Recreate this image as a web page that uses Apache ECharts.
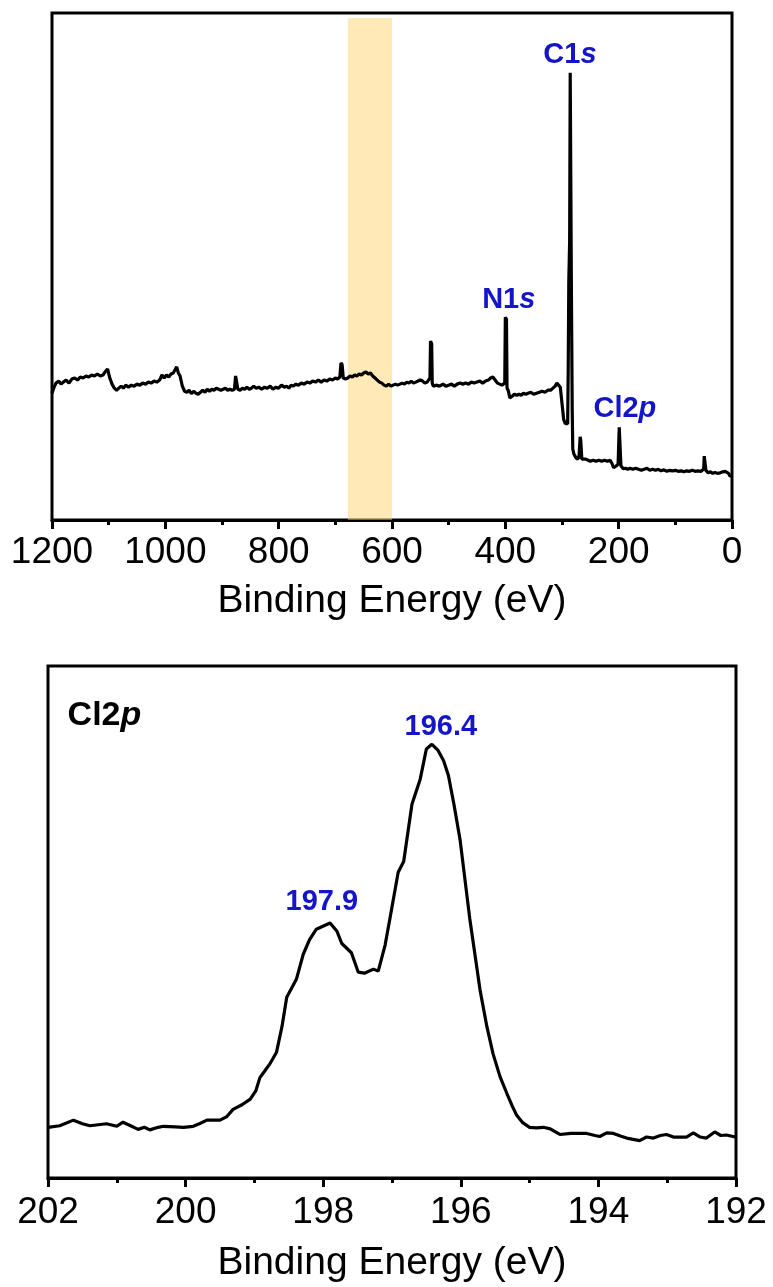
<!DOCTYPE html>
<html>
<head>
<meta charset="utf-8">
<script src="https://cdn.jsdelivr.net/npm/echarts@6/dist/echarts.min.js"></script>
<style>
  html, body { margin: 0; padding: 0; background: #fff; }
  #xps { width: 773px; height: 1287px; }
</style>
</head>
<body>
<div id="xps"></div>
<script>
// survey spectrum: [binding energy (eV), intensity (a.u.)]
var surveyData = [
  [1200, 25.0], [1197, 26.0], [1193, 27.0], [1188, 27.4], [1184, 26.8], [1180, 27.2],
  [1175, 27.6], [1170, 27.0], [1165, 27.8], [1160, 28.0], [1155, 27.6], [1150, 28.2],
  [1145, 28.0], [1140, 28.4], [1135, 28.2], [1130, 28.6], [1125, 28.4], [1120, 28.8],
  [1115, 28.4], [1110, 28.6], [1105, 29.4], [1102, 29.8], [1098, 28.0], [1094, 26.8],
  [1090, 26.0], [1086, 25.6], [1082, 26.0], [1078, 26.4], [1074, 26.0], [1070, 26.6],
  [1065, 26.2], [1060, 26.6], [1055, 26.4], [1050, 26.8], [1045, 26.6], [1040, 27.0],
  [1035, 26.8], [1030, 27.2], [1025, 27.0], [1020, 27.4], [1015, 27.2], [1010, 27.6],
  [1006, 28.6], [1002, 28.0], [998, 28.6], [994, 28.2], [990, 28.8], [986, 29.0],
  [983, 29.6], [980, 30.2], [977, 29.0], [974, 28.4], [970, 26.4], [966, 25.4],
  [962, 25.2], [958, 25.6], [954, 24.9], [950, 25.4], [946, 25.0], [942, 24.8],
  [938, 25.2], [934, 25.6], [930, 25.2], [926, 25.8], [922, 25.4], [918, 25.8],
  [914, 25.6], [910, 26.0], [906, 25.8], [902, 25.6], [898, 25.8], [894, 26.0],
  [890, 25.6], [886, 25.8], [882, 25.6], [878, 25.8], [876, 28.4], [874, 28.2],
  [872, 25.8], [868, 25.6], [864, 26.0], [860, 25.8], [856, 26.2], [852, 25.8],
  [848, 26.0], [844, 26.4], [840, 26.0], [835, 26.2], [830, 25.8], [825, 26.2],
  [820, 26.0], [815, 26.4], [810, 25.8], [805, 26.2], [800, 26.0], [795, 26.6],
  [790, 26.2], [786, 26.4], [782, 26.0], [778, 26.6], [774, 26.4], [770, 26.8],
  [765, 26.6], [760, 27.0], [755, 26.8], [750, 27.2], [745, 27.0], [740, 27.4],
  [735, 27.2], [730, 27.6], [725, 27.2], [720, 27.6], [715, 27.4], [710, 27.8],
  [705, 27.6], [700, 28.0], [696, 27.8], [692, 28.2], [690, 31.0], [688, 30.6],
  [686, 28.0], [682, 27.8], [678, 28.0], [674, 28.4], [670, 28.2], [666, 28.6],
  [662, 28.4], [658, 28.8], [654, 28.6], [650, 29.0], [646, 29.2], [642, 28.8],
  [638, 29.0], [634, 28.4], [630, 28.0], [626, 27.6], [622, 27.2], [618, 27.0],
  [614, 26.6], [610, 26.4], [606, 26.8], [602, 26.4], [598, 26.6], [594, 26.8],
  [590, 26.6], [586, 26.8], [582, 27.0], [578, 26.8], [574, 27.2], [570, 27.0],
  [566, 27.4], [562, 27.0], [558, 27.2], [554, 27.4], [550, 27.6], [546, 27.4],
  [542, 27.0], [538, 27.2], [535, 27.0], [533, 28.0], [532, 35.3], [530, 34.8],
  [529, 27.0], [527, 26.4], [522, 26.6], [516, 26.4], [510, 26.8], [505, 26.4],
  [500, 26.6], [495, 26.8], [490, 26.4], [485, 26.8], [480, 27.0], [475, 26.8],
  [470, 27.0], [465, 26.8], [460, 27.2], [455, 27.0], [450, 27.2], [445, 27.4],
  [440, 27.0], [435, 27.4], [430, 27.6], [426, 28.0], [422, 28.2], [418, 27.6],
  [414, 27.0], [410, 26.8], [406, 26.6], [403, 26.4], [401, 27.0], [400, 40.0],
  [398, 39.6], [397, 26.0], [395, 25.6], [392, 24.1], [388, 24.4], [384, 24.8],
  [380, 24.6], [376, 24.8], [372, 24.6], [368, 25.0], [364, 24.8], [360, 25.0],
  [355, 25.2], [350, 24.8], [345, 25.0], [340, 25.2], [335, 25.4], [330, 25.2],
  [325, 25.6], [320, 25.6], [316, 26.0], [312, 26.4], [309, 27.0], [306, 26.8],
  [303, 26.2], [300, 23.0], [297, 19.8], [294, 19.0], [292, 18.7], [290, 19.0],
  [289, 30.0], [288, 47.0], [286.5, 55.0], [285.5, 88.2], [284.5, 88.0], [283.5, 47.0],
  [282, 22.0], [281, 14.0], [279, 13.0], [276, 12.4], [273, 12.0], [270, 12.4],
  [268, 16.4], [267, 15.8], [265, 12.0], [262, 11.8], [258, 12.0], [254, 11.8],
  [250, 11.6], [245, 11.8], [240, 11.6], [235, 11.8], [230, 11.6], [225, 11.8],
  [220, 11.6], [215, 11.8], [212, 11.2], [209, 10.3], [205, 10.6], [201, 11.0],
  [199, 18.3], [198, 18.0], [196, 10.7], [194, 10.4], [192, 10.1], [188, 10.2],
  [184, 10.0], [180, 10.2], [175, 10.0], [170, 10.2], [165, 10.0], [160, 9.8],
  [155, 10.0], [150, 10.2], [145, 9.8], [140, 10.0], [135, 9.8], [130, 10.0],
  [125, 9.7], [120, 9.9], [115, 9.6], [110, 9.8], [105, 9.7], [100, 9.8],
  [95, 9.6], [90, 9.7], [85, 9.5], [80, 9.7], [75, 9.6], [70, 9.8],
  [65, 9.6], [60, 9.7], [55, 9.6], [50, 10.0], [49, 12.6], [47, 12.4],
  [46, 9.8], [42, 9.3], [38, 9.5], [34, 9.2], [30, 9.4], [26, 9.2],
  [21, 9.3], [16, 9.5], [12, 9.6], [9, 9.7], [6, 9.2], [4, 8.7], [0, 8.7]
];

// Cl 2p high resolution spectrum
var cl2pData = [
  [202.00, 9.9], [201.83, 10.2], [201.63, 11.3], [201.50, 10.6], [201.39, 10.2],
  [201.15, 10.6], [201.00, 10.1], [200.91, 10.9], [200.80, 10.2], [200.69, 9.5],
  [200.60, 9.9], [200.52, 9.4], [200.40, 9.9], [200.32, 10.1], [200.15, 10.0],
  [200.03, 9.9], [199.89, 10.1], [199.80, 10.6], [199.69, 11.3], [199.50, 11.3],
  [199.40, 12.0], [199.31, 13.4], [199.18, 14.3], [199.06, 15.4], [198.98, 17.0],
  [198.92, 19.6], [198.85, 20.9], [198.77, 22.4], [198.68, 24.5], [198.60, 29.5],
  [198.53, 35.3], [198.39, 38.8], [198.29, 43.7], [198.20, 46.5], [198.10, 48.6],
  [197.90, 49.8], [197.80, 48.2], [197.73, 45.8], [197.59, 44.0], [197.49, 40.2],
  [197.40, 40.0], [197.27, 40.8], [197.20, 40.4], [197.10, 45.5], [197.03, 50.7],
  [196.91, 59.7], [196.83, 61.8], [196.71, 73.0], [196.59, 77.9], [196.50, 83.8],
  [196.42, 84.7], [196.33, 83.5], [196.25, 81.5], [196.18, 78.6], [196.10, 73.0],
  [196.01, 66.0], [195.87, 50.7], [195.72, 36.7], [195.62, 29.5], [195.53, 24.2],
  [195.43, 19.8], [195.33, 16.5], [195.25, 14.0], [195.19, 12.3], [195.10, 10.8],
  [195.00, 9.9], [194.90, 9.8], [194.80, 9.9], [194.70, 9.6], [194.56, 8.5],
  [194.40, 8.7], [194.17, 8.7], [194.05, 8.3], [193.98, 8.1], [193.88, 8.8],
  [193.78, 8.7], [193.68, 8.2], [193.59, 7.8], [193.40, 7.3], [193.30, 8.0],
  [193.20, 7.8], [193.10, 8.3], [193.01, 8.5], [192.91, 8.0], [192.72, 8.0],
  [192.62, 8.8], [192.52, 8.0], [192.43, 7.8], [192.31, 9.0], [192.22, 8.3],
  [192.14, 8.4], [192.01, 8.0]
];

// peak labels: [text, italic orbital, x (eV), y (a.u.)]
var surveyLabels = [
  ["C1", "s", 286, 91.7],
  ["N1", "s", 394, 43.4],
  ["Cl2", "p", 189, 21.8]
];
var cl2pLabels = [
  ["197.9", "", 198.02, 54.0],
  ["196.4", "", 196.29, 88.0]
];
var panelTag = ["Cl2", "p", 201.18, 90.4];

// highlighted band on the survey (eV)
var bandRange = [678, 600];

var FONT = 'Arial, "Liberation Sans", sans-serif';
var BLUE = "#1414c8";

function labelSeries(xi, yi, items, color, size) {
  return {
    type: "scatter",
    xAxisIndex: xi,
    yAxisIndex: yi,
    symbol: "circle",
    symbolSize: 1,
    itemStyle: { color: "transparent", opacity: 1 },
    z: 20,
    data: items.map(function(d) {
      return { value: [d[2], d[3]], name: d[0], orb: d[1] };
    }),
    label: {
      show: true,
      position: "inside",
      opacity: 1,
      formatter: function(p) {
        var s = "{a|" + p.data.name + "}";
        if (p.data.orb) s += "{b|" + p.data.orb + "}";
        return s;
      },
      rich: {
        a: { fontFamily: FONT, fontWeight: "bold", fontSize: size, color: color },
        b: { fontFamily: FONT, fontWeight: "bold", fontStyle: "italic", fontSize: size, color: color }
      }
    }
  };
}

function xAxisCfg(gi, min, max, interval, gap, margin) {
  return {
    gridIndex: gi,
    type: "value",
    inverse: true,
    min: min,
    max: max,
    interval: interval,
    name: "Binding Energy (eV)",
    nameLocation: "middle",
    nameGap: gap,
    nameTextStyle: { fontFamily: FONT, fontSize: 39, color: "#000" },
    axisLine: { show: true, onZero: false, lineStyle: { color: "#000", width: 3 } },
    axisTick: { show: true, length: 9, lineStyle: { color: "#000", width: 3 } },
    minorTick: { show: true, splitNumber: 2, length: 5, lineStyle: { color: "#000", width: 3 } },
    axisLabel: {
      fontFamily: FONT,
      fontSize: 37,
      color: "#000",
      margin: margin,
      formatter: function(v) { return String(v); }
    },
    splitLine: { show: false }
  };
}

var chart = echarts.init(document.getElementById("xps"));

var option = {
  animation: false,
  backgroundColor: "#fff",
  grid: [
    { left: 52, right: 41, top: 13, height: 507, show: true, borderColor: "#000", borderWidth: 3, backgroundColor: "transparent" },
    { left: 48, right: 37, top: 666, height: 512, show: true, borderColor: "#000", borderWidth: 3, backgroundColor: "transparent" }
  ],
  xAxis: [
    xAxisCfg(0, 0, 1200, 200, 62, 14),
    xAxisCfg(1, 192, 202, 2, 66, 16)
  ],
  yAxis: [
    { gridIndex: 0, type: "value", min: 0, max: 100, show: false },
    { gridIndex: 1, type: "value", min: 0, max: 100, show: false }
  ],
  series: [
    {
      name: "survey",
      type: "line",
      xAxisIndex: 0,
      yAxisIndex: 0,
      data: surveyData,
      symbol: "none",
      lineStyle: { color: "#000", width: 3.2 },
      z: 2
    },
    {
      // translucent band drawn above the trace
      name: "band",
      type: "line",
      xAxisIndex: 0,
      yAxisIndex: 0,
      data: [],
      z: 10,
      markArea: {
        silent: true,
        itemStyle: { color: "rgba(255, 212, 104, 0.48)" },
        data: [[{ xAxis: bandRange[0], yAxis: 0 }, { xAxis: bandRange[1], yAxis: 99 }]]
      }
    },
    {
      name: "Cl2p",
      type: "line",
      xAxisIndex: 1,
      yAxisIndex: 1,
      data: cl2pData,
      symbol: "none",
      lineStyle: { color: "#000", width: 3.2 },
      z: 2
    },
    labelSeries(0, 0, surveyLabels, BLUE, 29),
    labelSeries(1, 1, cl2pLabels, BLUE, 29),
    labelSeries(1, 1, [panelTag], "#000", 34)
  ]
};

chart.setOption(option);
window.addEventListener("resize", function() {
  chart.resize();
});
</script>
</body>
</html>
